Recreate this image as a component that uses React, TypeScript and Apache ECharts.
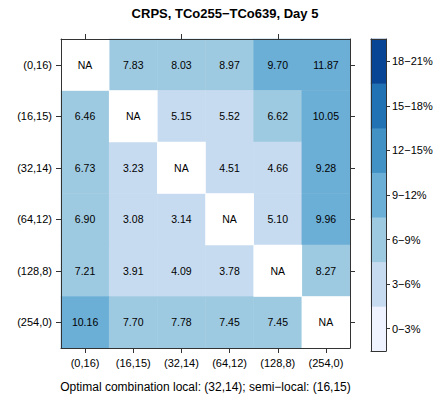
import React, { useEffect, useRef } from "react";
import * as echarts from "echarts";

const xCats = ["(0,16)", "(16,15)", "(32,14)", "(64,12)", "(128,8)", "(254,0)"];
const yCats = ["(0,16)", "(16,15)", "(32,14)", "(64,12)", "(128,8)", "(254,0)"];
const row0 = [null, 7.83, 8.03, 8.97, 9.7, 11.87];
const row1 = [6.46, null, 5.15, 5.52, 6.62, 10.05];
const row2 = [6.73, 3.23, null, 4.51, 4.66, 9.28];
const row3 = [6.9, 3.08, 3.14, null, 5.1, 9.96];
const row4 = [7.21, 3.91, 4.09, 3.78, null, 8.27];
const row5 = [10.16, 7.7, 7.78, 7.45, 7.45, null];
const rows: (number | null)[][] = [row0, row1, row2, row3, row4, row5];
const legendLabels = ["0\u22123%", "3\u22126%", "6\u22129%", "9\u221212%", "12\u221215%", "15\u221218%", "18\u221221%"];
const legendBreaks = [0, 3, 6, 9, 12, 15, 18, 21];
const legendColors = ["#eff3ff", "#c6dbef", "#9ecae1", "#6baed6", "#4292c6", "#2171b5", "#084594"];

const FONT = "Liberation Sans, Arial, Helvetica, sans-serif";

export default function App() {
  const ref = useRef<HTMLDivElement>(null);
  useEffect(() => {
    if (!ref.current) return;
    const chart = echarts.init(ref.current, null, { renderer: "svg" });
    const data: any[] = [];
    const naData: any[] = [];
    rows.forEach((r, ri) =>
      r.forEach((v, ci) => {
        if (v === null) naData.push([ci, ri, -1]);
        else data.push([ci, ri, v]);
      })
    );
    const legendData = legendLabels.map((_, i) => [0, i, (legendBreaks[i] + legendBreaks[i + 1]) / 2]);
    const pieces: any[] = legendColors.map((c, i) => ({ gte: legendBreaks[i], lt: legendBreaks[i + 1], color: c }));
    pieces.push({ lt: 0, color: "#ffffff" });
    const axisLine = { show: true, lineStyle: { color: "#333", width: 1 } };
    const tick = { show: true, alignWithLabel: true, inside: false, length: 5, lineStyle: { color: "#333" } };
    chart.setOption({
      animation: false,
      backgroundColor: "#fff",
      title: {
        text: "CRPS, TCo255\u2212TCo639, Day 5",
        left: 220,
        textAlign: "center",
        top: 2,
        textStyle: { fontFamily: FONT, fontSize: 13, fontWeight: "bold", color: "#000" },
      },
      grid: [
        { left: 61, top: 39, width: 289, height: 311 },
        { left: 371, top: 39, width: 15, height: 312 },
      ],
      xAxis: [
        {
          type: "category", data: xCats, gridIndex: 0, position: "bottom", z: 10,
          axisLine, axisTick: tick, splitLine: { show: false },
          axisLabel: { fontFamily: FONT, fontSize: 11, color: "#000", margin: 9, interval: 0 },
          name: "Optimal combination local: (32,14); semi\u2212local: (16,15)",
          nameLocation: "middle", nameGap: 33,
          nameTextStyle: { fontFamily: FONT, fontSize: 12, color: "#000" },
        },
        {
          type: "category", data: xCats, gridIndex: 0, position: "top", z: 10,
          axisLine, axisTick: tick, axisLabel: { show: false }, splitLine: { show: false },
        },
        {
          type: "category", data: ["l"], gridIndex: 1, position: "bottom", z: 10,
          axisLine, axisTick: { show: false }, axisLabel: { show: false },
        },
        {
          type: "category", data: ["l"], gridIndex: 1, position: "top", z: 10,
          axisLine, axisTick: { show: false }, axisLabel: { show: false },
        },
      ],
      yAxis: [
        {
          type: "category", data: yCats, inverse: true, gridIndex: 0, position: "left", z: 10,
          axisLine, axisTick: tick, splitLine: { show: false },
          axisLabel: { fontFamily: FONT, fontSize: 11, color: "#000", margin: 9, interval: 0 },
        },
        {
          type: "category", data: yCats, inverse: true, gridIndex: 0, position: "right", z: 10,
          axisLine, axisTick: tick, axisLabel: { show: false }, splitLine: { show: false },
        },
        {
          type: "category", data: legendLabels, gridIndex: 1, position: "right", z: 10,
          axisLine, axisTick: { show: true, alignWithLabel: true, length: 4, lineStyle: { color: "#333" } },
          axisLabel: { fontFamily: FONT, fontSize: 11, color: "#000", margin: 6, interval: 0 },
        },
        {
          type: "category", data: legendLabels, gridIndex: 1, position: "left", z: 10,
          axisLine, axisTick: { show: false }, axisLabel: { show: false },
        },
      ],
      visualMap: {
        type: "piecewise", show: false, seriesIndex: [0, 1, 2], dimension: 2, pieces,
      },
      series: [
        {
          type: "heatmap", xAxisIndex: 0, yAxisIndex: 0, data,
          label: {
            show: true, color: "#000", fontFamily: FONT, fontSize: 10.5,
            formatter: (p: any) => (p.value[2] as number).toFixed(2),
          },
        },
        {
          type: "heatmap", xAxisIndex: 0, yAxisIndex: 0, data: naData,
          label: { show: true, color: "#000", fontFamily: FONT, fontSize: 10.5, formatter: () => "NA" },
        },
        {
          type: "heatmap", xAxisIndex: 2, yAxisIndex: 2, data: legendData,
          label: { show: false },
        },
      ],
    });
    return () => chart.dispose();
  }, []);
  return <div ref={ref} style={{ position: "fixed", left: 0, top: 0, width: 441, height: 398 }} />;
}
